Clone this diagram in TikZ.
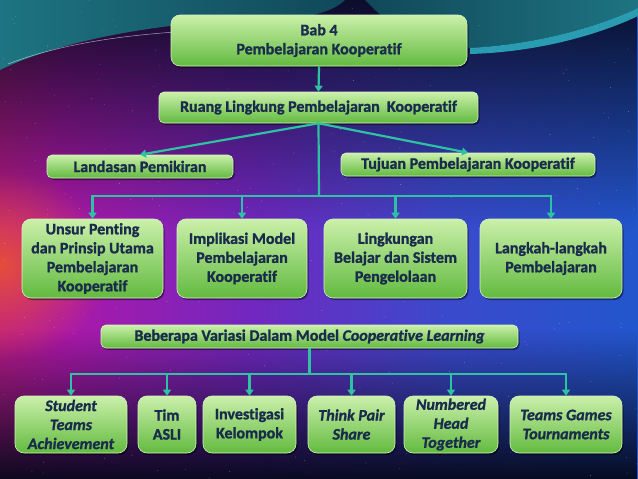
\documentclass[tikz,border=0pt]{standalone}
\usepackage{fontspec}
\setmainfont{Carlito}[Ligatures=NoCommon, BoldFeatures={FakeBold=1.3}, BoldItalicFeatures={FakeBold=1.3}]
\usetikzlibrary{arrows.meta,shadows,fadings}
\definecolor{txt}{HTML}{1A2C4C}
\definecolor{gtop}{HTML}{CBF0AA}
\definecolor{gbot}{HTML}{62BA40}
\definecolor{boxedge}{HTML}{D6F4C2}
\definecolor{teal1}{HTML}{2EC2A2}
\definecolor{c0}{HTML}{EC5A2A}
\definecolor{c1}{HTML}{D8303C}
\definecolor{c2}{HTML}{C81C6E}
\definecolor{c3}{HTML}{AC18A8}
\definecolor{c4}{HTML}{7028C0}
\definecolor{c5}{HTML}{3A4ACC}
\definecolor{c6}{HTML}{1A5ACC}
\definecolor{c7}{HTML}{1468C8}
\definecolor{darkbg}{HTML}{05081A}
\definecolor{tealA}{HTML}{1E7482}
\definecolor{tealB}{HTML}{10485A}
\definecolor{tealC}{HTML}{2A9CB2}
\definecolor{glow}{HTML}{F05A28}
\pgfdeclarehorizontalshading{bgband}{100bp}{color(0bp)=(c0); color(8bp)=(c1); color(20bp)=(c2); color(30bp)=(c3); color(45bp)=(c4); color(60bp)=(c5); color(80bp)=(c6); color(100bp)=(c7)}
\tikzfading[name=fadetop, top color=transparent!10, bottom color=transparent!100]
\tikzfading[name=fadebot, top color=transparent!100, bottom color=transparent!5]
\tikzfading[name=glowfade, inner color=transparent!20, outer color=transparent!100]
\tikzset{
  gbox/.style={draw=boxedge, line width=0.6pt, rounded corners=9pt,
    top color=gtop, bottom color=gbot, text=txt,
    font=\fontsize{16}{19}\selectfont\bfseries, align=center, inner sep=1pt,
    drop shadow={shadow xshift=1.5pt, shadow yshift=-2pt, opacity=0.45, fill=black}},
  thin/.style={rounded corners=5pt},
  conn/.style={draw=teal1, line width=2.2pt},
  hconn/.style={conn, line cap=rect},
  arr/.style={conn, -{Triangle[width=8pt,length=6pt]}},
}
\begin{document}
\begin{tikzpicture}[x=1pt,y=-1pt]
\useasboundingbox (0,0) rectangle (638,479);
% background
\shade[shading=bgband] (0,0) rectangle (638,479);
\fill[darkbg, path fading=fadetop] (0,0) rectangle (638,230);
\fill[darkbg, path fading=fadebot] (0,330) rectangle (638,479);
\fill[glow, path fading=glowfade] (-110,170) rectangle (110,360);
% teal top regions
\shade[left color=tealA, right color=tealB] (0,0) -- (0,70) .. controls (70,36) and (180,20) .. (285,18) .. controls (315,17) and (335,10) .. (345,0) -- cycle;
\shade[left color=tealB, right color=tealA] (365,0) -- (638,0) -- (638,8) .. controls (600,26) and (540,44) .. (470,48) -- (400,30) .. controls (385,20) and (375,10) .. (365,0) -- cycle;
\fill[tealC] (470,48) .. controls (540,44) and (600,26) .. (638,8) -- (638,16) .. controls (600,34) and (540,52) .. (470,54) -- cycle;
\draw[white, opacity=0.6, line width=0.5pt] (8,64) .. controls (60,44) and (120,36) .. (175,32);
% stars
\pgfmathsetseed{42}
\foreach \i in {1,...,260}{
  \pgfmathsetmacro{\sx}{rnd*638}\pgfmathsetmacro{\sy}{rnd*479}
  \fill[white, opacity=0.35] (\sx,\sy) circle (0.45pt);
}
% nodes
\node[gbox, minimum width=296pt, minimum height=51pt] (bab) at (319,40.5) {Bab 4\\Pembelajaran Kooperatif};
\node[gbox, thin, minimum width=319pt, minimum height=31pt] (ruang) at (318.5,107.5) {Ruang Lingkung Pembelajaran\ \ Kooperatif};
\node[gbox, thin, minimum width=186pt, minimum height=23pt] (land) at (140,166.5) {Landasan Pemikiran};
\node[gbox, thin, minimum width=254pt, minimum height=23pt] (tuj) at (468,164.5) {Tujuan Pembelajaran Kooperatif};
\node[gbox, minimum width=141pt, minimum height=79pt] (b1) at (92.5,258.5) {Unsur Penting\\dan Prinsip Utama\\Pembelajaran\\Kooperatif};
\node[gbox, minimum width=130pt, minimum height=79pt] (b2) at (242,258.5) {Implikasi Model\\Pembelajaran\\Kooperatif};
\node[gbox, minimum width=143pt, minimum height=79pt] (b3) at (395.5,258.5) {Lingkungan\\Belajar dan Sistem\\Pengelolaan};
\node[gbox, minimum width=142pt, minimum height=79pt] (b4) at (551,258.5) {Langkah-langkah\\Pembelajaran};
\node[gbox, thin, minimum width=417pt, minimum height=23pt] (beb) at (309.5,336.5) {Beberapa Variasi Dalam Model \textit{Cooperative Learning}};
\node[gbox, minimum width=112pt, minimum height=57pt] (c1) at (71,424.5) {\itshape Student\\\itshape Teams\\\itshape Achievement};
\node[gbox, minimum width=58pt, minimum height=57pt] (c2) at (167,424.5) {Tim\\ASLI};
\node[gbox, minimum width=93pt, minimum height=57pt] (c3) at (249.5,424.5) {Investigasi\\Kelompok};
\node[gbox, minimum width=87pt, minimum height=57pt] (c4) at (351.5,424.5) {\itshape Think Pair\\\itshape Share};
\node[gbox, minimum width=94pt, minimum height=57pt] (c5) at (451,424.5) {\itshape Numbered\\\itshape Head\\\itshape Together};
\node[gbox, minimum width=112pt, minimum height=57pt] (c6) at (566,424.5) {\itshape Teams Games\\\itshape Tournaments};
% connectors
\draw[arr] (bab.south) -- (ruang.north);
\draw[arr] (ruang.south) -- (land.north);
\draw[arr] (ruang.south) -- (tuj.north);
\coordinate (h1) at (319,196);
\draw[conn] (ruang.south) -- (h1);
\draw[hconn] (b1.north |- h1) -- (b4.north |- h1);
\foreach \b in {b1,b2,b3,b4} \draw[arr] (\b.north |- h1) -- (\b.north);
\coordinate (h2) at (309.5,374);
\draw[conn] (beb.south) -- (h2);
\draw[hconn] (c1.north |- h2) -- (c6.north |- h2);
\foreach \b in {c1,c2,c3,c4,c5,c6} \draw[arr] (\b.north |- h2) -- (\b.north);
\end{tikzpicture}
\end{document}
